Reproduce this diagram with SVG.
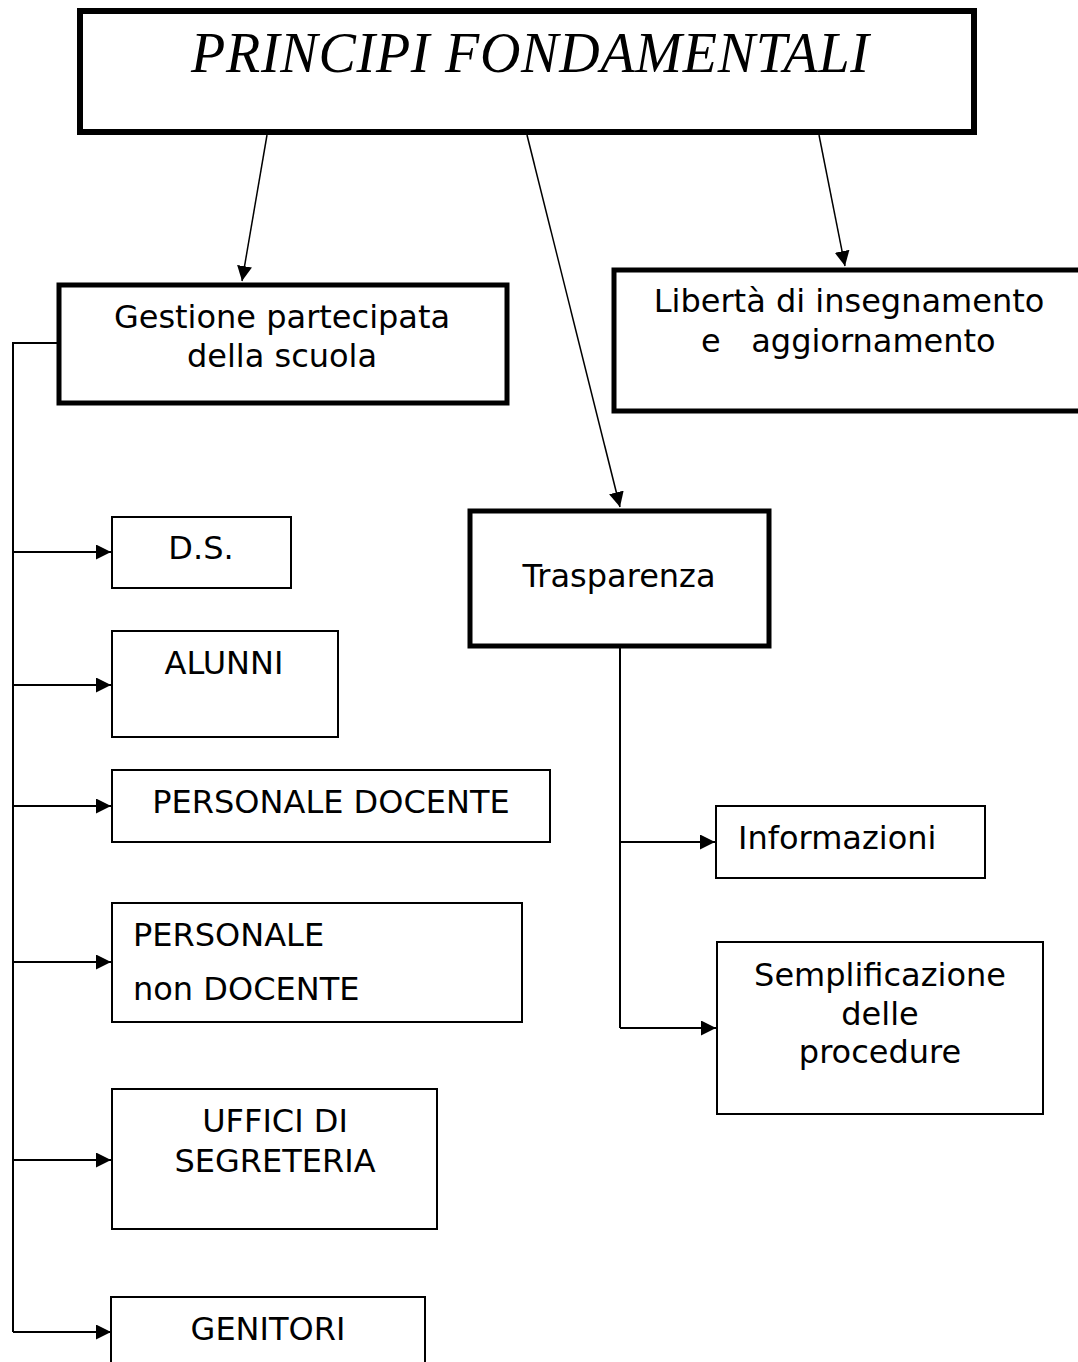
<svg xmlns="http://www.w3.org/2000/svg" width="1078" height="1362" viewBox="0 0 1078 1362">
<style>
.thick{fill:#fff;stroke:#000;stroke-width:6}
.med{fill:#fff;stroke:#000;stroke-width:5}
.thin{fill:#fff;stroke:#000;stroke-width:2}
.t{font-family:"DejaVu Sans","Liberation Sans",sans-serif;font-size:32px;fill:#000}
.c{text-anchor:middle}
.title{font-family:"Liberation Serif","DejaVu Serif",serif;font-style:italic;font-size:56px;fill:#000}
.ln{fill:none;stroke:#000;stroke-width:1.5}
.ln2{fill:none;stroke:#000;stroke-width:2}
</style>
<defs>
<marker id="ah" viewBox="0 0 10 10" refX="10" refY="5" markerWidth="15" markerHeight="15" markerUnits="userSpaceOnUse" orient="auto">
<path d="M0,0 L10,5 L0,10 Z" fill="#000"/>
</marker>
<marker id="ah2" viewBox="0 0 10 10" refX="10" refY="5" markerWidth="15" markerHeight="15" markerUnits="userSpaceOnUse" orient="auto">
<path d="M0,0 L10,5 L0,10 Z" fill="#000"/>
</marker>
</defs>

<g id="connectors">
<line class="ln" x1="267" y1="135" x2="242" y2="281" marker-end="url(#ah2)"/>
<line class="ln" x1="527" y1="135" x2="620" y2="507" marker-end="url(#ah2)"/>
<line class="ln" x1="819" y1="135" x2="845" y2="266" marker-end="url(#ah2)"/>
<polyline class="ln2" points="57,343 13,343 13,1332"/>
<line class="ln2" x1="13" y1="552" x2="111" y2="552" marker-end="url(#ah)"/>
<line class="ln2" x1="13" y1="685" x2="111" y2="685" marker-end="url(#ah)"/>
<line class="ln2" x1="13" y1="806" x2="111" y2="806" marker-end="url(#ah)"/>
<line class="ln2" x1="13" y1="962" x2="111" y2="962" marker-end="url(#ah)"/>
<line class="ln2" x1="13" y1="1160" x2="111" y2="1160" marker-end="url(#ah)"/>
<line class="ln2" x1="13" y1="1332" x2="111" y2="1332" marker-end="url(#ah)"/>
<line class="ln2" x1="620" y1="648" x2="620" y2="1028"/>
<line class="ln2" x1="620" y1="842" x2="715" y2="842" marker-end="url(#ah)"/>
<line class="ln2" x1="620" y1="1028" x2="716" y2="1028" marker-end="url(#ah)"/>
</g>

<g id="title">
<rect class="thick" x="80" y="11" width="894" height="121"/>
<text class="title" x="191" y="72" textLength="678" lengthAdjust="spacing">PRINCIPI FONDAMENTALI</text>
</g>

<g id="gestione">
<rect class="med" x="59" y="285" width="448" height="118"/>
<text class="t c" x="282" y="328">Gestione partecipata</text>
<text class="t c" x="282" y="367">della scuola</text>
</g>

<g id="liberta">
<rect class="med" x="614" y="270" width="480" height="141"/>
<text class="t c" x="849" y="312">Libertà di insegnamento</text>
<text class="t" x="701" y="352" xml:space="preserve">e   aggiornamento</text>
</g>

<g id="trasparenza">
<rect class="med" x="470" y="511" width="299" height="135"/>
<text class="t c" x="619" y="587">Trasparenza</text>
</g>

<g id="ds">
<rect class="thin" x="112" y="517" width="179" height="71"/>
<text class="t c" x="201" y="559">D.S.</text>
</g>

<g id="alunni">
<rect class="thin" x="112" y="631" width="226" height="106"/>
<text class="t c" x="224" y="674">ALUNNI</text>
</g>

<g id="docente">
<rect class="thin" x="112" y="770" width="438" height="72"/>
<text class="t c" x="331" y="813">PERSONALE DOCENTE</text>
</g>

<g id="nondocente">
<rect class="thin" x="112" y="903" width="410" height="119"/>
<text class="t" x="133" y="946">PERSONALE</text>
<text class="t" x="133" y="1000">non DOCENTE</text>
</g>

<g id="uffici">
<rect class="thin" x="112" y="1089" width="325" height="140"/>
<text class="t c" x="275" y="1132">UFFICI DI</text>
<text class="t c" x="275" y="1172">SEGRETERIA</text>
</g>

<g id="genitori">
<rect class="thin" x="111" y="1297" width="314" height="80"/>
<text class="t c" x="268" y="1340">GENITORI</text>
</g>

<g id="informazioni">
<rect class="thin" x="716" y="806" width="269" height="72"/>
<text class="t" x="738" y="849">Informazioni</text>
</g>

<g id="semplificazione">
<rect class="thin" x="717" y="942" width="326" height="172"/>
<text class="t c" x="880" y="986">Semplificazione</text>
<text class="t c" x="880" y="1025">delle</text>
<text class="t c" x="880" y="1063">procedure</text>
</g>
</svg>
